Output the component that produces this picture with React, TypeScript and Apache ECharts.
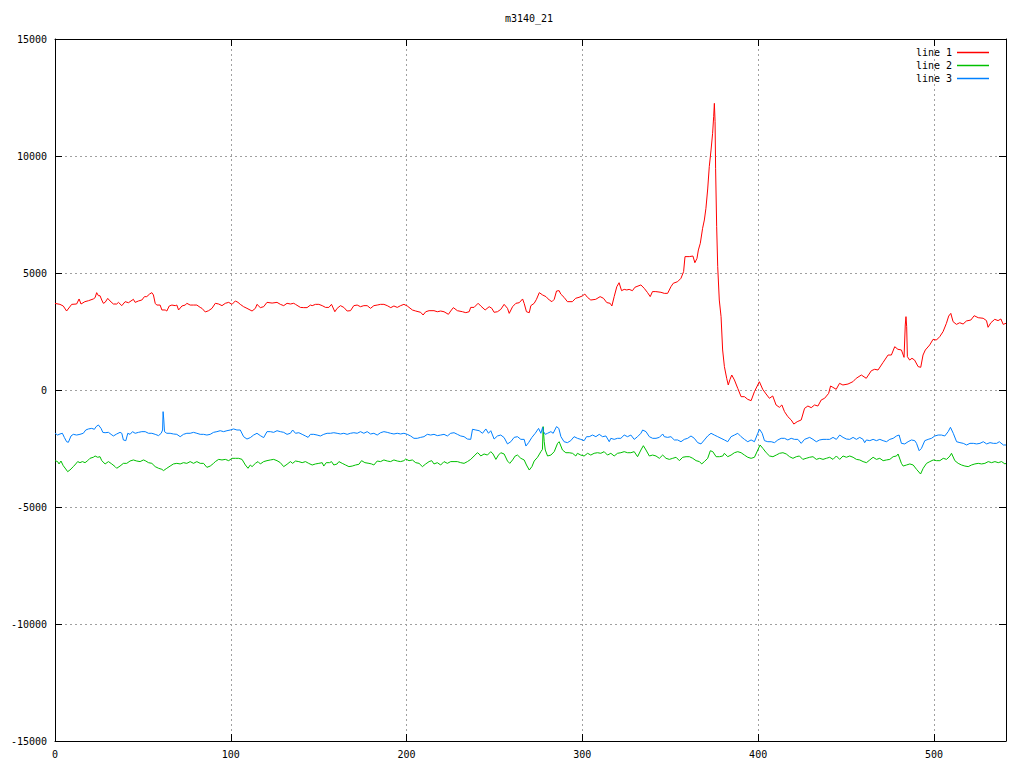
import React, { useEffect, useRef } from "react";
import * as echarts from "echarts";

const TITLE = "m3140_21";
const SERIES_NAMES = ["line 1", "line 2", "line 3"];
const SERIES_COLORS = ["#ff0000", "#00c000", "#0080ff"];
const X_MIN = 0;
const X_MAX = 541;
const X_STEP = 100;
const Y_MIN = -15000;
const Y_MAX = 15000;
const Y_STEP = 5000;

const line1: [number, number][] = [
  [0,3700],[2.8,3660],[4.7,3590],[6.6,3375],[9.5,3660],[12.3,3675],[13.7,3890],[14.8,3675],[17,3775],[19,3815],[21.8,3890],[22.8,3945],[23.7,4160],[24.7,4030],[25.6,4030],[26.6,3845],[27.5,3705],[28.5,3745],[30,3915],[31.3,3805],[33.2,3675],[35.1,3675],[36.1,3745],[38,3605],[39.9,3775],[41.8,3730],[44.6,3875],[45.6,3745],[47.5,3805],[49.4,3845],[50.9,3990],[52.2,3990],[53.8,4100],[55.1,4160],[56,4060],[57,3705],[57.9,3630],[59.8,3630],[60.8,3420],[62.7,3420],[63.6,3375],[65,3590],[66.5,3630],[68.4,3605],[69.3,3630],[70.3,3420],[72.2,3590],[74.1,3630],[75,3705],[76.9,3630],[78.8,3630],[80.7,3630],[82.6,3530],[83.6,3490],[85.5,3335],[87.4,3390],[89.3,3490],[91.2,3705],[93.1,3675],[95,3605],[96.9,3705],[98.8,3745],[100.7,3660],[102.6,3805],[104.1,3745],[105.4,3660],[107.3,3560],[109.2,3490],[112.1,3375],[114,3490],[114.9,3660],[116.8,3520],[118.7,3560],[120.6,3745],[123.5,3715],[126.3,3745],[128.2,3660],[130.1,3605],[132,3705],[133.9,3675],[135.8,3705],[136.8,3660],[139.6,3530],[141.5,3520],[143.4,3520],[145.3,3630],
  [146.3,3605],[148.2,3660],[150.1,3660],[152,3605],[153.9,3530],[155.8,3530],[157.3,3660],[159.2,3345],[160.5,3490],[162.4,3605],[164.3,3530],[166.2,3375],[168.1,3390],[170,3605],[171.9,3630],[173.8,3560],[175.7,3605],[177.6,3605],[179.5,3490],[181.4,3605],[183.3,3630],[185.2,3660],[187.1,3660],[189,3605],[191,3520],[192.8,3590],[194.7,3530],[196.6,3605],[198.5,3660],[200.4,3590],[203.3,3420],[205.2,3375],[208,3320],[209.4,3205],[210.9,3345],[212.8,3390],[215.6,3390],[217.5,3345],[219.4,3375],[221.3,3345],[223.8,3235],[225.1,3375],[226.6,3520],[228.9,3390],[231.8,3345],[233.7,3305],[235.6,3345],[236.5,3530],[238.4,3530],[240.7,3705],[242.2,3590],[244.7,3420],[247,3560],[248.5,3490],[249.8,3320],[251.7,3345],[253.6,3445],[255.5,3660],[257.4,3490],[258.4,3275],[260.3,3560],[262.2,3705],[264.1,3730],[266,3890],[266.9,3705],[268.2,3345],[269.8,3305],[270.7,3605],[272.6,3705],[273.9,3875],[275.5,4160],[277.4,4060],[279.3,3990],[281.2,3845],[282.7,3775],[284,3875],[285.3,4230],[286.8,4245],
  [287.7,4100],[289.6,3960],[291.5,3775],[294.3,3775],[296.2,3920],[298.1,3960],[300,4020],[301.4,4100],[302.9,3960],[304.8,3845],[307.6,3875],[310.1,3990],[312,3920],[313.9,3735],[315.8,3705],[316.8,3590],[318.1,3990],[319.6,4415],[320.9,4585],[322.3,4245],[323.8,4300],[325.3,4275],[326.6,4300],[328.5,4245],[329.9,4390],[333.3,4490],[335.2,4345],[337.1,4160],[338.6,3990],[339.9,4205],[341.8,4205],[344.7,4175],[346.6,4130],[348.5,4130],[350.4,4415],[351.7,4560],[354.2,4630],[356.1,4775],[357.6,5060],[358.4,5700],[360.8,5700],[362.9,5725],[364,5440],[365.2,5625],[366,5985],[367.1,6270],[368.4,6910],[369.4,7265],[370.3,7765],[371.3,8590],[372.2,9545],[373.2,10255],[374.1,10970],[374.7,11680],[375.1,12250],[375.5,11470],[375.8,9475],[376.4,6980],[377,5270],[377.9,3845],[378.9,3135],[379.8,1710],[380.8,1000],[382.1,500],[383,215],[384,455],[385,640],[386.5,430],[388.4,70],[390.3,-285],
  [392.2,-285],[394.1,-400],[396,-455],[397.9,-70],[400.7,355],[402.6,30],[404.5,-170],[406.4,-355],[408.3,-255],[410.2,-640],[412.1,-740],[413.5,-640],[415,-925],[416.9,-1140],[418.8,-1280],[420.3,-1455],[422.2,-1355],[424.5,-1280],[426.4,-785],[428.3,-685],[430.2,-755],[432.1,-640],[434,-685],[435.9,-425],[437.8,-355],[440.1,-145],[441.2,170],[442.5,115],[444.4,30],[446.3,285],[448.2,215],[451.1,255],[453.9,355],[455.8,500],[458.7,640],[461.5,500],[464.4,825],[466.3,885],[468.2,855],[471,1170],[473.9,1495],[475.8,1495],[477.7,1850],[479.5,1740],[481.5,1710],[483,1395],[483.7,2780],[484.1,3135],[484.5,2705],[484.9,1425],[486.2,1280],[487.5,1355],[489,1280],[491,1000],[492.5,970],[493.8,1495],[495.1,1710],[497.6,1925],[499.5,2165],[501.4,2135],[503.3,2280],[505.2,2495],[507.1,2850],[508.4,3160],[509.6,3275],[510.9,2920],[512.8,2805],[514.7,2875],[516.6,2820],[518.5,2950],[521,2990],[522.9,3175],[525.2,3090],[528,3065],[529.9,2965],[530.8,2680],[532.4,2875],[534.6,3020],[536.5,2965],[538.1,3035],[539.4,2805],[541,2850]
];

const line2: [number, number][] = [
  [0,-3020],[1.5,-3060],[2.3,-3160],[3.4,-3035],[4.7,-3235],[6.1,-3375],[7.2,-3490],[8.5,-3420],[10.4,-3275],[11.8,-3160],[12.9,-3060],[14.2,-3105],[15.6,-3060],[17.1,-3105],[18.6,-3020],[19.9,-2920],[21.8,-2875],[22.8,-2820],[24.3,-2875],[25.6,-2850],[26.6,-3020],[28.5,-3160],[30.4,-3060],[32.3,-3160],[34.2,-3275],[35.1,-3345],[37,-3250],[38.9,-3135],[40.8,-3135],[42.7,-3035],[44.6,-2990],[46.5,-3035],[48.4,-3060],[50.3,-2990],[51.3,-3020],[53.2,-3105],[55.1,-3135],[57,-3275],[58.9,-3345],[60.8,-3390],[61.7,-3445],[63.6,-3345],[65.5,-3250],[67.4,-3160],[69.3,-3135],[71.2,-3160],[73.1,-3105],[75,-3135],[76.9,-3060],[78.8,-3135],[80.7,-3060],[82.6,-3135],[84.5,-3135],[86.4,-3305],[88.3,-3250],[90.2,-3135],[91.2,-3060],[93.1,-2965],[95,-2990],[96.9,-2965],[98.8,-3020],[100.7,-2920],[102.6,-2920],[104.5,-2920],[106.4,-2965],[108.3,-3205],[109.8,-3345],[111.1,-3205],[112.1,-3275],[114,-3135],[115.5,-3060],[116.8,-3160],[118.7,-3060],[120.6,-3020],[122.5,-2990],[124.4,-2965],[126.3,-3020],[128.2,-3105],[130.1,-3275],[132,-3175],[133.9,-3060],[135.2,-3135],[136.8,-3035],[138.7,-3060],[140.6,-3105],[142.5,-3060],[144.3,-3135],
  [146.3,-3205],[148.2,-3160],[150.1,-3135],[152,-3105],[152.9,-3250],[154.3,-3105],[156.2,-3105],[157.3,-3060],[158.6,-3205],[160.5,-3160],[161.5,-3060],[163.4,-3135],[165.3,-3205],[167.2,-3275],[169.1,-3250],[171,-3205],[172.9,-3175],[174.4,-3020],[176.3,-3105],[178.6,-3135],[180.1,-3160],[181.4,-3205],[183.3,-3035],[185.2,-3060],[187.1,-2990],[189,-3035],[190.9,-3060],[192.8,-2990],[194.7,-3035],[196.6,-3060],[198.5,-3020],[199.5,-2950],[201.4,-3020],[203.3,-2990],[205.2,-3105],[207.1,-3135],[209,-3275],[210.9,-3160],[212.8,-3060],[214.3,-3020],[215.6,-3160],[217.5,-3105],[219.4,-3205],[221.3,-3060],[223.2,-3135],[225.1,-3060],[227,-3060],[228.9,-3060],[230.8,-3105],[232.7,-3135],[234.6,-3060],[236.5,-2965],[238.4,-2820],[240.3,-2680],[241.3,-2735],[242.2,-2820],[244.1,-2735],[246,-2780],[247.9,-2635],[249.2,-2735],[250.8,-2965],[252.3,-2780],[253.6,-2680],[255.5,-2735],[257.4,-3035],[258.7,-3135],[260.3,-2990],[261.8,-2820],[263.1,-2780],[265,-2920],[266.9,-2990],[268.2,-3205],[269.8,-3420],[271.3,-3275],[272.6,-3035],[274.5,-2875],[276.4,-2635],[277.3,-2535],[277.7,-1565],[278.3,-2210],[278.9,-2565],[280.2,-2820],[282.1,-2780],[284,-2635],[285.9,-2280],[286.8,-2210],
  [288.7,-2565],[290.6,-2680],[292.5,-2680],[294.4,-2705],[296.3,-2820],[297.2,-2705],[299.1,-2780],[301,-2820],[303,-2705],[304.8,-2780],[306.7,-2705],[308.6,-2680],[310.5,-2705],[312.4,-2635],[314.3,-2780],[316.2,-2705],[318.1,-2820],[320,-2705],[321.9,-2680],[323.8,-2635],[325.7,-2680],[327.6,-2680],[329.5,-2635],[331.4,-2850],[333.3,-2565],[334.7,-2380],[336.2,-2565],[338.1,-2820],[340,-2780],[341.9,-2820],[343.8,-2920],[345.7,-2780],[347.6,-2920],[349.5,-2965],[351.4,-2920],[353.3,-2875],[355.2,-3020],[357.1,-2875],[359,-2850],[360.9,-2850],[362.8,-2920],[364.7,-3020],[366.6,-3060],[367.9,-3160],[369.4,-3060],[371.3,-2920],[372.8,-2595],[374.2,-2635],[376.1,-2850],[378,-2850],[379.9,-2820],[380.8,-2705],[382.7,-2850],[384.6,-2780],[386.5,-2680],[388.4,-2635],[390.3,-2680],[392.2,-2780],[394.1,-2875],[396,-2920],[397.9,-2875],[399.8,-2565],[401.1,-2350],[402.7,-2495],[404.6,-2680],[406.5,-2820],[408.4,-2850],[410.3,-2780],[412.2,-2705],[414.1,-2680],[416,-2735],[417.9,-2850],[419.8,-2920],[421.7,-2850],[423.5,-2820],[425.4,-2965],[427.3,-2920],
  [429.3,-2875],[431.2,-2850],[433.1,-2965],[435,-2920],[436.9,-2965],[438.8,-2920],[440.7,-2875],[442.6,-2965],[444.5,-2820],[446.4,-2965],[448.3,-2820],[450.2,-2875],[452.1,-2820],[454,-2875],[455.9,-2965],[457.8,-2990],[459.7,-3060],[461.6,-3105],[463.5,-2990],[465.4,-2875],[467.3,-2965],[469.2,-2920],[471.1,-3020],[473,-2990],[474.9,-2965],[476.8,-2850],[478.7,-2820],[479.6,-2735],[481.5,-3135],[482.5,-3250],[484.4,-3205],[486.3,-3160],[488.2,-3205],[490.1,-3390],[492.4,-3590],[493.9,-3345],[495.8,-3135],[497.7,-3060],[499.6,-2990],[501.5,-3020],[503.4,-3020],[505.3,-2920],[507.2,-2965],[509.1,-2820],[510,-2705],[511.9,-3020],[513.8,-3135],[515.7,-3205],[517.6,-3250],[519.5,-3275],[521.4,-3205],[523.3,-3160],[525.2,-3135],[527.1,-3160],[529,-3135],[530.9,-3060],[532.8,-3105],[534.7,-3060],[536.6,-3105],[538.5,-3060],[540.4,-3160],[541,-3135]
];

const line3: [number, number][] = [
  [0,-1850],[1.5,-1925],[2.8,-1880],[4.2,-1850],[5.3,-2025],[6.6,-2210],[7.6,-2235],[9.1,-1965],[10.4,-1895],[12.3,-1925],[14.2,-1895],[16.1,-1850],[17.5,-1710],[19,-1665],[20.9,-1640],[22.4,-1680],[23.4,-1565],[24.7,-1495],[26.2,-1640],[27.2,-1810],[28.5,-1825],[30.4,-1810],[31.9,-1895],[33.2,-1965],[35.1,-1880],[37,-1810],[38,-1850],[38.9,-2135],[40.3,-2165],[41.4,-1850],[42.7,-1895],[44.1,-1780],[45.6,-1850],[47.5,-1810],[49.4,-1780],[51.3,-1780],[53.2,-1850],[55.1,-1850],[57,-1895],[58.9,-1950],[60.4,-1850],[61.2,-1710],[61.5,-925],[61.9,-1280],[62.3,-1780],[63.6,-1850],[65.5,-1850],[67.4,-1880],[69.3,-1895],[71.2,-1995],[73.1,-1895],[75,-1850],[76.9,-1850],[78.8,-1810],[80.7,-1850],[82.6,-1895],[84.5,-1895],[86.4,-1925],[88.3,-1895],[90.2,-1810],[92.1,-1780],[94,-1740],[95.9,-1780],[97.8,-1740],[99.7,-1710],[101.6,-1665],[103.5,-1710],[105.4,-1710],[107.3,-1995],[109.2,-2095],[111.1,-2035],[113,-1925],[114.9,-1850],[116.8,-1950],[118.7,-2035],[120.6,-1780],[122.5,-1780],[124.4,-1810],[126.3,-1740],[128.2,-1780],[130.1,-1810],[132,-1895],[133.9,-1850],[135.2,-1710],[136.8,-1850],[138.7,-1825],[140.6,-1895],[142.5,-1965],
  [144,-2025],[145.3,-1895],[147.2,-1895],[149.1,-1925],[151,-1965],[152.9,-1895],[154.8,-1850],[156.7,-1850],[158.6,-1825],[160.5,-1850],[162.4,-1880],[164.3,-1850],[166.2,-1895],[168.1,-1850],[170,-1825],[171.9,-1850],[173.8,-1780],[175.7,-1850],[177.6,-1780],[179.5,-1880],[181.4,-1850],[183.3,-1925],[185.2,-1825],[187.1,-1780],[189,-1810],[190.9,-1850],[192.8,-1880],[194.7,-1850],[196.6,-1880],[198.5,-1850],[200.4,-1895],[202.3,-1965],[204.2,-2065],[206.1,-2065],[208,-2025],[209.9,-1995],[211.8,-1895],[213.7,-1925],[215.6,-1895],[217.5,-1950],[219.4,-1925],[221.3,-1895],[223.2,-1965],[225.1,-1850],[227,-1825],[228.9,-1895],[230.8,-1965],[232.7,-1995],[234.6,-2095],[236.5,-2110],[237.5,-1680],[239.4,-1710],[241.3,-1740],[243.2,-1850],[245.1,-1665],[246.6,-1850],[247.9,-1740],[249.8,-2095],[251.7,-1965],[253.6,-1925],[255.5,-2035],[257.4,-2305],[259.3,-2210],[261.2,-2025],[263.1,-1995],[265,-2110],[266.9,-2110],[267.9,-2395],[269.4,-2250],[271.3,-2025],[273.2,-1850],[275.1,-1640],[276.4,-1850],[277.4,-1595],[277.9,-1780],[278.9,-1895],[280.2,-1850],[282.1,-1780],[283.4,-1850],[285.3,-1565],[286.6,-1640],
  [287.8,-1995],[289.6,-2210],[291.5,-2250],[293.4,-2165],[295.3,-1995],[297.2,-2065],[299.1,-2110],[301,-2165],[302.4,-1995],[303.9,-1995],[305.8,-1925],[307.7,-1995],[309.6,-1895],[311.5,-1995],[313.4,-1965],[315.3,-2210],[316.2,-2065],[318.1,-2110],[320,-2065],[321.9,-2065],[323.8,-1925],[325.7,-1995],[327.6,-1925],[329.5,-2110],[331.4,-1995],[333.3,-1850],[334.3,-1710],[336.2,-1780],[338.1,-1995],[340,-2065],[341.9,-2065],[343.8,-2025],[345.7,-1880],[346.6,-1995],[348.5,-2025],[350.4,-1995],[352.3,-2135],[354.2,-2135],[356.1,-2210],[358,-2110],[359.9,-2065],[361.8,-1965],[363.7,-2065],[365.6,-2250],[367.5,-2305],[369.4,-2135],[371.3,-1965],[373.2,-1850],[375.1,-1925],[377,-1995],[378.9,-2065],[380.8,-2135],[382.7,-2210],[384.6,-1995],[386.5,-1925],[388.4,-1850],[390.3,-1995],[392.2,-2110],[394.1,-2210],[396,-2135],[397.9,-2210],[399.8,-1850],[400.8,-1680],[402.3,-1850],[403.6,-2165],[405.5,-2210],[407.4,-2210],[409.3,-2250],[411.2,-2135],[413.1,-2065],[415,-2065],[416.9,-2135],[418.8,-2065],[420.7,-2110],[422.6,-2110],[424.5,-2280],[426.4,-2110],
  [429.3,-2025],[431.2,-2110],[433.1,-2210],[435,-2135],[436.9,-2110],[438.8,-2110],[440.7,-2110],[442.6,-2025],[444.5,-2110],[446.4,-1925],[448.3,-2025],[450.2,-2095],[452.1,-2110],[454,-2025],[455.9,-2110],[457.8,-2025],[459.7,-2110],[460.6,-2250],[461.6,-2135],[463.5,-2165],[465.4,-2110],[467.3,-2165],[469.2,-2110],[471.1,-2165],[473,-2210],[474.9,-2110],[476.8,-2065],[478.7,-1965],[480.2,-1925],[481.5,-2280],[483.4,-2305],[485.3,-2210],[487.2,-2135],[489.1,-2165],[490.1,-2280],[491.6,-2595],[492.9,-2495],[494.8,-2165],[496.7,-2110],[498.6,-2065],[500.5,-1965],[502.4,-1925],[504.3,-1925],[506.2,-1965],[508.1,-1780],[509.4,-1595],[511,-1850],[512.9,-2210],[514.8,-2250],[516.7,-2280],[518.6,-2350],[520.5,-2280],[522.4,-2280],[524.3,-2305],[526.2,-2280],[528.1,-2210],[530,-2305],[531.9,-2250],[533.8,-2280],[535.7,-2280],[537.2,-2210],[539.5,-2350],[541,-2350]
];

const SERIES_DATA = [line1, line2, line3];

const FONT = "'DejaVu Sans Mono', monospace";

export default function App() {
  const ref = useRef<HTMLDivElement>(null);

  useEffect(() => {
    if (!ref.current) return;
    const chart = echarts.init(ref.current, null, { renderer: "svg" });
    const fmt = (v: number) => String(v);
    const axisLine = { show: true, onZero: false, lineStyle: { color: "#000", width: 1 } };
    const axisTick = { show: true, inside: true, length: 7, lineStyle: { color: "#000", width: 1 } };
    const splitLine = { show: true, lineStyle: { color: "#a0a0a0", width: 1, type: [2, 3] as any } };
    const label = { color: "#000", fontFamily: FONT, fontSize: 10 };

    chart.setOption({
      animation: false,
      backgroundColor: "#fff",
      grid: { left: 55, right: 18, top: 39, bottom: 27, containLabel: false },
      graphic: [
        {
          type: "text",
          x: 529,
          y: 18,
          style: {
            text: TITLE,
            fill: "#000",
            fontFamily: FONT,
            fontSize: 10,
            align: "center",
            verticalAlign: "middle",
            textAlign: "center",
            textVerticalAlign: "middle",
          },
        },
      ],
      legend: {
        data: SERIES_NAMES,
        orient: "vertical",
        right: 30,
        top: 41,
        align: "right",
        icon: "rect",
        itemWidth: 32,
        itemHeight: 1.5,
        itemGap: 0,
        selectedMode: false,
        textStyle: { color: "#000", fontFamily: FONT, fontSize: 10, lineHeight: 13 },
      },
      xAxis: [
        {
          type: "value",
          position: "bottom",
          min: X_MIN,
          max: X_MAX,
          interval: X_STEP,
          axisLine,
          axisTick,
          splitLine,
          axisLabel: { ...label, margin: 8, showMaxLabel: false, formatter: fmt },
        },
        {
          type: "value",
          position: "top",
          min: X_MIN,
          max: X_MAX,
          interval: X_STEP,
          axisLine,
          axisTick,
          splitLine: { show: false },
          axisLabel: { show: false },
        },
      ],
      yAxis: [
        {
          type: "value",
          position: "left",
          min: Y_MIN,
          max: Y_MAX,
          interval: Y_STEP,
          axisLine,
          axisTick,
          splitLine,
          axisLabel: { ...label, margin: 8, formatter: fmt },
        },
        {
          type: "value",
          position: "right",
          min: Y_MIN,
          max: Y_MAX,
          interval: Y_STEP,
          axisLine,
          axisTick,
          splitLine: { show: false },
          axisLabel: { show: false },
        },
      ],
      series: SERIES_NAMES.map((name, i) => ({
        name,
        type: "line",
        xAxisIndex: 0,
        yAxisIndex: 0,
        data: SERIES_DATA[i],
        showSymbol: false,
        symbol: "none",
        silent: true,
        lineStyle: { color: SERIES_COLORS[i], width: 1 },
        itemStyle: { color: SERIES_COLORS[i] },
      })),
    });

    return () => chart.dispose();
  }, []);

  return (
    <div
      ref={ref}
      style={{ position: "fixed", left: 0, top: 0, width: 1024, height: 768, background: "#fff" }}
    />
  );
}
